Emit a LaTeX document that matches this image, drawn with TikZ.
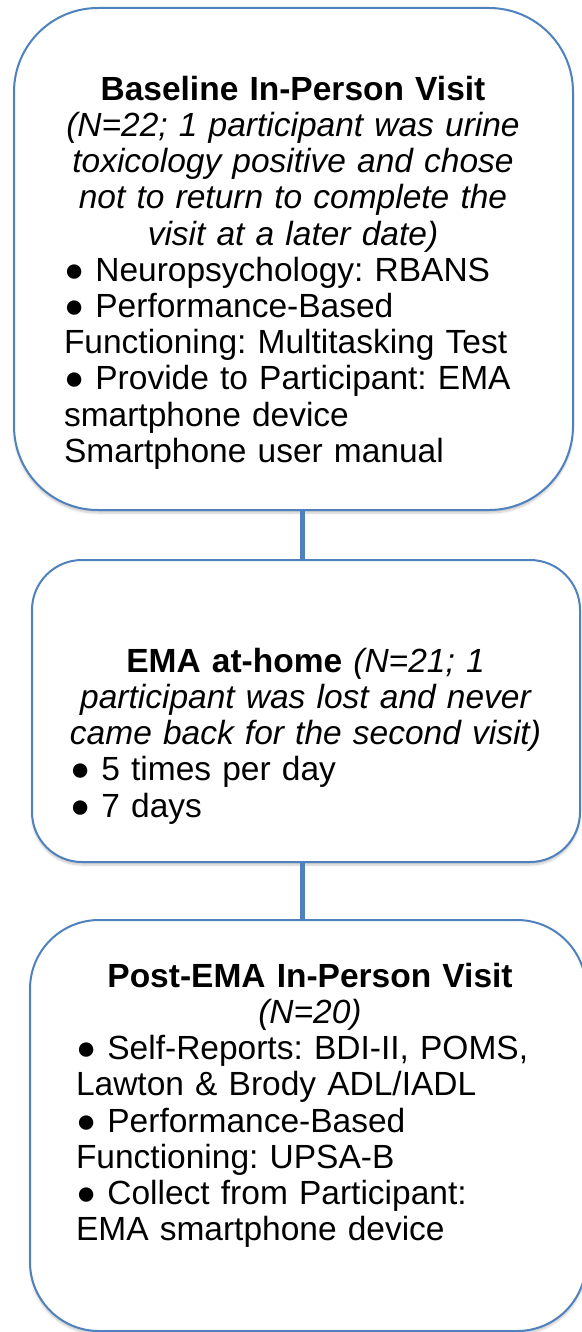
\documentclass[tikz,border=0pt]{standalone}
\usepackage{fontspec}
\setmainfont{Liberation Sans}
\usetikzlibrary{shadows.blur}
\definecolor{boxblue}{RGB}{79,129,189}
\frenchspacing
% a centred line that never wraps
\newcommand\midline[1]{\hbox to \linewidth{\hss#1\hss}}
\tikzset{
  stage/.style={draw=boxblue, line width=2pt, fill=white, rectangle,
    rounded corners=#1, inner sep=0pt,
    blur shadow={shadow xshift=0pt, shadow yshift=-3pt,
      shadow blur steps=6, shadow opacity=22}},
  stagetext/.style={anchor=north, inner sep=0pt, align=left,
    font=\fontsize{33.5}{36.2}\selectfont,
    execute at begin node={\setlength{\parskip}{0pt}\setlength{\parindent}{0pt}}},
  link/.style={draw=boxblue, line width=5pt}
}
\begin{document}
\begin{tikzpicture}[x=1pt,y=-1pt]
\useasboundingbox (0,0) rectangle (581,1332);

% the three study stages
\node[stage=84pt, minimum width=559pt, minimum height=502pt] (visit) at (293.5,259) {};
\node[stage=50pt, minimum width=548pt, minimum height=302pt] (home) at (306,711) {};
\node[stage=69pt, minimum width=556pt, minimum height=411pt] (post) at (308,1125.5) {};

% vertical links between the stages
\coordinate (spine) at (302,0);
\draw[link] (spine |- visit.south) -- (spine |- home.north);
\draw[link] (spine |- home.south) -- (spine |- post.north);

% stage contents
\node[stagetext, text width=458pt] (visittext) at (293,74.7) {%
  \midline{\strut\textbf{Baseline In-Person Visit}}
  \midline{\itshape (N=22; 1 participant was urine}
  \midline{\itshape toxicology positive and chose}
  \midline{\itshape not to return to complete the}
  \midline{\itshape visit at a later date)}
  ● Neuropsychology: RBANS\par
  ● Performance-Based\par
  Functioning: Multitasking Test\par
  ● Provide to Participant: EMA\par
  smartphone device\par
  Smartphone user manual\par};

\node[stagetext, text width=471pt] (hometext) at (305.5,646.7) {%
  \midline{\strut\textbf{EMA at-home} \textit{(N=21; 1}}
  \midline{\itshape participant was lost and never}
  \midline{\itshape came back for the second visit)}
  ● 5 times per day\par
  ● 7 days\par};

\node[stagetext, text width=468pt] (posttext) at (310,961.7) {%
  \midline{\strut\textbf{Post-EMA In-Person Visit}}
  \midline{\itshape (N=20)}
  ● Self-Reports: BDI-II, POMS,\par
  Lawton \& Brody ADL/IADL\par
  ● Performance-Based\par
  Functioning: UPSA-B\par
  ● Collect from Participant:\par
  EMA smartphone device\par};
\end{tikzpicture}
\end{document}
